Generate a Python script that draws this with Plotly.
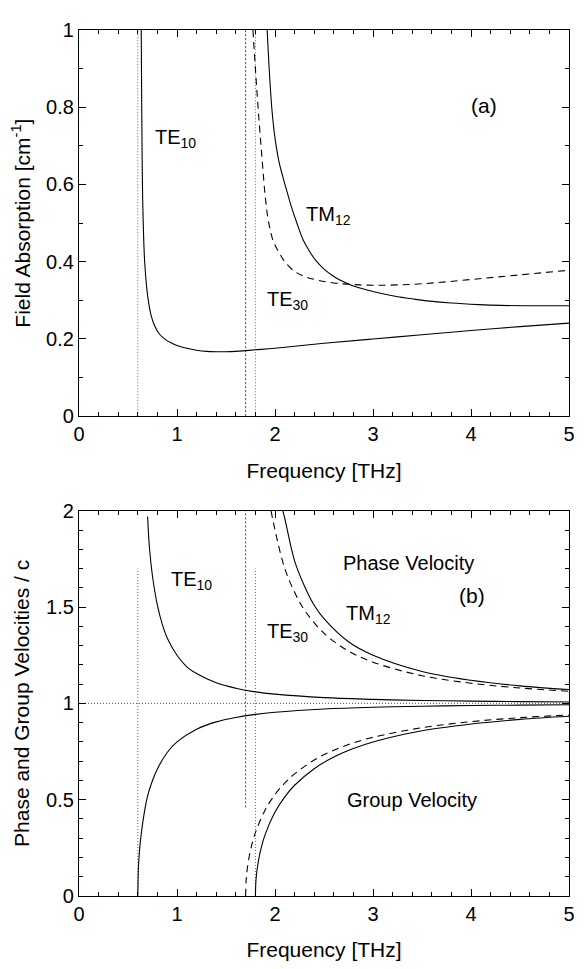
import plotly.graph_objects as go
from plotly.subplots import make_subplots

# ---------------- (a) Field absorption ----------------
te10_abs_f = [0.635, 0.64, 0.645, 0.65, 0.66, 0.67, 0.69, 0.71, 0.74, 0.77, 0.82, 0.88, 0.95,
              1.0, 1.1, 1.2, 1.3, 1.4, 1.5, 1.6, 1.7, 1.8, 2.0, 2.5, 3.0, 3.5, 4.0, 4.5, 5.0]
te10_abs = [1.00, 0.80, 0.65, 0.56, 0.46, 0.40, 0.335, 0.295, 0.257, 0.235, 0.213, 0.199, 0.189,
            0.183, 0.176, 0.171, 0.168, 0.167, 0.167, 0.168, 0.170, 0.172, 0.176, 0.189, 0.200,
            0.211, 0.222, 0.232, 0.241]

te30_abs_f = [1.775, 1.80, 1.83, 1.87, 1.90, 1.93, 1.98, 2.05, 2.10, 2.20, 2.30, 2.44, 2.6, 2.8,
              3.0, 3.25, 3.5, 3.75, 4.0, 4.25, 4.5, 4.75, 5.0]
te30_abs = [1.00, 0.90, 0.79, 0.66, 0.57, 0.51, 0.455, 0.42, 0.40, 0.375, 0.362, 0.352, 0.345,
            0.341, 0.339, 0.340, 0.343, 0.348, 0.354, 0.360, 0.366, 0.372, 0.378]

tm12_abs_f = [1.92, 1.95, 1.97, 2.0, 2.04, 2.08, 2.13, 2.17, 2.23, 2.29, 2.35, 2.42, 2.5, 2.6,
              2.7, 2.8, 2.95, 3.1, 3.24, 3.4, 3.58, 3.8, 4.08, 4.3, 4.53, 4.8, 5.0]
tm12_abs = [1.00, 0.86, 0.79, 0.72, 0.66, 0.62, 0.575, 0.54, 0.495, 0.455, 0.428, 0.402, 0.381,
            0.362, 0.348, 0.337, 0.326, 0.317, 0.310, 0.304, 0.298, 0.293, 0.289, 0.287, 0.286,
            0.286, 0.286]

# ---------------- (b) Phase and group velocities ----------------
te10_vp_f = [0.70, 0.72, 0.75, 0.8, 0.85, 0.9, 1.0, 1.1, 1.2, 1.4, 1.6, 1.8, 2.0, 2.5, 3.0, 3.5,
             4.0, 4.5, 5.0]
te10_vp = [1.97, 1.80, 1.66, 1.51, 1.41, 1.34, 1.25, 1.19, 1.155, 1.107, 1.079, 1.06, 1.048,
           1.03, 1.021, 1.015, 1.012, 1.009, 1.007]
te10_vg_f = [0.6, 0.605, 0.61, 0.62, 0.65, 0.7, 0.75, 0.8, 0.9, 1.0, 1.2, 1.4, 1.6, 1.8, 2.0,
             2.5, 3.0, 3.5, 4.0, 4.5, 5.0]
te10_vg = [0.0, 0.13, 0.18, 0.25, 0.38, 0.52, 0.60, 0.66, 0.745, 0.80, 0.866, 0.904, 0.927,
           0.943, 0.954, 0.971, 0.98, 0.985, 0.989, 0.991, 0.993]

tm12_vp_f = [2.08, 2.1, 2.2, 2.3, 2.4, 2.5, 2.75, 3.0, 3.5, 4.0, 4.5, 5.0]
tm12_vp = [2.0, 1.96, 1.74, 1.61, 1.51, 1.44, 1.32, 1.25, 1.166, 1.12, 1.091, 1.072]
tm12_vg_f = [1.8, 1.805, 1.81, 1.82, 1.85, 1.9, 2.0, 2.1, 2.2, 2.4, 2.6, 2.8, 3.0, 3.5, 4.0, 4.5, 5.0]
tm12_vg = [0.0, 0.075, 0.105, 0.148, 0.23, 0.32, 0.436, 0.515, 0.575, 0.661, 0.722, 0.766, 0.80,
           0.858, 0.893, 0.917, 0.933]

te30_vp_f = [1.96, 2.0, 2.1, 2.2, 2.3, 2.5, 2.75, 3.0, 3.5, 4.0, 4.5, 5.0]
te30_vp = [2.0, 1.90, 1.70, 1.577, 1.485, 1.364, 1.272, 1.214, 1.144, 1.105, 1.08, 1.063]
te30_vg_f = [1.7, 1.705, 1.71, 1.72, 1.75, 1.8, 1.9, 2.0, 2.1, 2.2, 2.4, 2.6, 2.8, 3.0, 3.5, 4.0,
             4.5, 5.0]
te30_vg = [0.0, 0.077, 0.108, 0.152, 0.238, 0.329, 0.447, 0.527, 0.587, 0.634, 0.706, 0.757,
           0.795, 0.824, 0.874, 0.905, 0.926, 0.94]

# cutoff markers: frequency, extent in (a), extent in (b)
cutoff_f = [0.6, 1.7, 1.8]
cutoff_dash = ["1px,2px", "2px,2px", "1px,2px"]
cutoff_color = ["#666666", "#444444", "#666666"]
cutoff_a_ext = [(0, 1), (0, 1), (0, 1)]
cutoff_b_ext = [(0, 1.7), (0.46, 2.0), (0, 1.7)]
unity_v = 1.0

FONT = "Arial, Liberation Sans, Helvetica, sans-serif"
fig = make_subplots(rows=2, cols=1)

line_solid = dict(color="black", width=1.1)
line_dash = dict(color="black", width=1.1, dash="7px,5px")

for f, d, c, (a0, a1), (b0, b1) in zip(cutoff_f, cutoff_dash, cutoff_color, cutoff_a_ext, cutoff_b_ext):
    fig.add_trace(go.Scatter(x=[f, f], y=[a0, a1], mode="lines",
                             line=dict(color=c, width=1, dash=d)), row=1, col=1)
    fig.add_trace(go.Scatter(x=[f, f], y=[b0, b1], mode="lines",
                             line=dict(color=c, width=1, dash=d)), row=2, col=1)

fig.add_trace(go.Scatter(x=[0, 5], y=[unity_v, unity_v], mode="lines",
                         line=dict(color="#555555", width=1, dash="1px,2px")), row=2, col=1)

fig.add_trace(go.Scatter(x=te10_abs_f, y=te10_abs, mode="lines", line=line_solid, line_shape="spline"), row=1, col=1)
fig.add_trace(go.Scatter(x=te30_abs_f, y=te30_abs, mode="lines", line=line_dash, line_shape="spline"), row=1, col=1)
fig.add_trace(go.Scatter(x=tm12_abs_f, y=tm12_abs, mode="lines", line=line_solid, line_shape="spline"), row=1, col=1)

fig.add_trace(go.Scatter(x=te10_vp_f, y=te10_vp, mode="lines", line=line_solid, line_shape="spline"), row=2, col=1)
fig.add_trace(go.Scatter(x=te10_vg_f, y=te10_vg, mode="lines", line=line_solid, line_shape="spline"), row=2, col=1)
fig.add_trace(go.Scatter(x=tm12_vp_f, y=tm12_vp, mode="lines", line=line_solid, line_shape="spline"), row=2, col=1)
fig.add_trace(go.Scatter(x=tm12_vg_f, y=tm12_vg, mode="lines", line=line_solid, line_shape="spline"), row=2, col=1)
fig.add_trace(go.Scatter(x=te30_vp_f, y=te30_vp, mode="lines", line=line_dash, line_shape="spline"), row=2, col=1)
fig.add_trace(go.Scatter(x=te30_vg_f, y=te30_vg, mode="lines", line=line_dash, line_shape="spline"), row=2, col=1)

axis_common = dict(showline=True, linecolor="black", linewidth=1.3, mirror="allticks",
                   ticks="inside", ticklen=7, tickwidth=1.2, tickcolor="black",
                   showgrid=False, zeroline=False,
                   tickfont=dict(family=FONT, size=20, color="black"))

xcommon = dict(axis_common, range=[0, 5], dtick=1, tick0=0,
               minor=dict(ticks="inside", dtick=0.2, ticklen=4, tickcolor="black"),
               title=dict(text="Frequency [THz]", font=dict(family=FONT, size=21, color="black"),
                          standoff=18))
fig.update_xaxes(xcommon, row=1, col=1)
fig.update_xaxes(xcommon, row=2, col=1)

fig.update_yaxes(axis_common, range=[0, 1], dtick=0.2, tick0=0, row=1, col=1,
                 minor=dict(ticks="inside", dtick=0.1, ticklen=4, tickcolor="black"),
                 title=dict(text="Field Absorption [cm<sup>-1</sup>]",
                            font=dict(family=FONT, size=21, color="black"), standoff=10))
fig.update_yaxes(axis_common, range=[0, 2], dtick=0.5, tick0=0, row=2, col=1,
                 minor=dict(ticks="inside", dtick=0.1, ticklen=4, tickcolor="black"),
                 title=dict(text="Phase and Group Velocities / c",
                            font=dict(family=FONT, size=21, color="black"), standoff=10))

fig.update_layout(
    width=578, height=961,
    margin=dict(l=71, r=16, t=11, b=71),
    paper_bgcolor="white", plot_bgcolor="white",
    showlegend=False,
    font=dict(family=FONT, size=20, color="black"),
    xaxis=dict(domain=[0, 1]), yaxis=dict(domain=[0.554, 1.0]),
    xaxis2=dict(domain=[0, 1]), yaxis2=dict(domain=[0.0, 0.4448]),
)

labels_a = [("TE<sub>10</sub>", 0.98, 0.72), ("TM<sub>12</sub>", 2.55, 0.52),
            ("TE<sub>30</sub>", 2.13, 0.30), ("(a)", 4.13, 0.805)]
labels_b = [("TE<sub>10</sub>", 1.15, 1.64), ("TE<sub>30</sub>", 2.13, 1.37),
            ("TM<sub>12</sub>", 2.95, 1.46), ("Phase Velocity", 3.36, 1.73),
            ("(b)", 4.01, 1.56), ("Group Velocity", 3.40, 0.50)]

for t, x, y in labels_a:
    fig.add_annotation(x=x, y=y, xref="x", yref="y", text=t, showarrow=False,
                       font=dict(family=FONT, size=21 if t.startswith("(") else 20, color="black"))
for t, x, y in labels_b:
    fig.add_annotation(x=x, y=y, xref="x2", yref="y2", text=t, showarrow=False,
                       font=dict(family=FONT, size=21 if t.startswith("(") else 20, color="black"))

fig.write_html("out.html")
